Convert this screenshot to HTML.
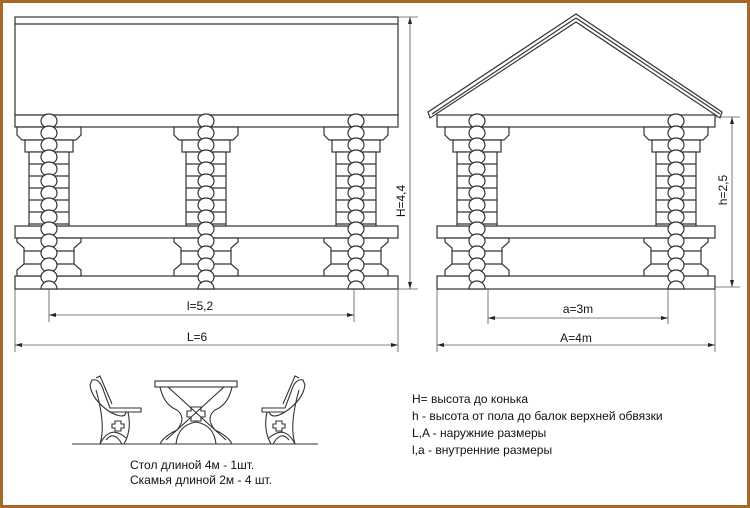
<!DOCTYPE html>
<html><head><meta charset="utf-8"><style>
html,body{margin:0;padding:0;background:#fff}
svg{display:block}
text{font-family:"Liberation Sans",sans-serif;fill:#111}
</style></head><body>
<svg id="s" width="750" height="508" viewBox="0 0 750 508" xmlns="http://www.w3.org/2000/svg">
<rect x="1.5" y="1.5" width="747" height="505" fill="#fff" stroke="#a5692b" stroke-width="3"/>
<g id="g" fill="#fff" stroke="#333" stroke-width="1.2">
<!-- left roof -->
<rect x="15" y="17" width="383" height="98"/>
<line x1="15" y1="24" x2="398" y2="24"/>
<rect x="15" y="115" width="383" height="12"/>
<rect x="15" y="226" width="383" height="12"/>
<rect x="15" y="276" width="383" height="13"/>
<!-- right roof -->
<polygon points="576,14 428,112 430,118 576,22 720,118 722,112"/>
<line x1="432" y1="114" x2="576" y2="18"/>
<line x1="576" y1="18" x2="720" y2="114"/>
<line x1="437" y1="117" x2="715" y2="117"/>
<rect x="437" y="115" width="278" height="12"/>
<rect x="437" y="226" width="278" height="12"/>
<rect x="437" y="276" width="278" height="13"/>
</g>
<g id="dims" stroke="#555" stroke-width="0.8" fill="none">
<line x1="15" y1="289" x2="15" y2="352"/><line x1="398" y1="289" x2="398" y2="352"/>
<line x1="49" y1="289" x2="49" y2="322"/><line x1="354" y1="289" x2="354" y2="322"/>
<line x1="15" y1="345" x2="398" y2="345"/><line x1="49" y1="315" x2="354" y2="315"/>
<line x1="437" y1="289" x2="437" y2="352"/><line x1="715" y1="289" x2="715" y2="352"/>
<line x1="488" y1="289" x2="488" y2="324"/><line x1="668" y1="289" x2="668" y2="324"/>
<line x1="437" y1="345" x2="715" y2="345"/><line x1="488" y1="318" x2="668" y2="318"/>
<line x1="398" y1="17" x2="418" y2="17"/><line x1="398" y1="289" x2="418" y2="289"/>
<line x1="410" y1="17" x2="410" y2="289"/>
<line x1="715" y1="117" x2="740" y2="117"/><line x1="715" y1="287" x2="740" y2="287"/>
<line x1="732" y1="117" x2="732" y2="287"/>
</g>
<g fill="#222">
<polygon points="15,345 22,343 22,347"/><polygon points="398,345 391,343 391,347"/>
<polygon points="49,315 56,313 56,317"/><polygon points="354,315 347,313 347,317"/>
<polygon points="437,345 444,343 444,347"/><polygon points="715,345 708,343 708,347"/>
<polygon points="488,318 495,316 495,320"/><polygon points="668,318 661,316 661,320"/>
<polygon points="410,17 408,24 412,24"/><polygon points="410,289 408,282 412,282"/>
<polygon points="732,117 730,124 734,124"/><polygon points="732,287 730,280 734,280"/>
</g>
<g font-size="12">
<text x="200" y="310" text-anchor="middle">l=5,2</text>
<text x="197" y="341" text-anchor="middle">L=6</text>
<text x="578" y="313" text-anchor="middle">a=3m</text>
<text x="576" y="342" text-anchor="middle">A=4m</text>
<text transform="translate(405,201) rotate(-90)" text-anchor="middle">H=4,4</text>
<text transform="translate(727,190) rotate(-90)" text-anchor="middle">h=2,5</text>
<text x="412" y="403">H= высота до конька</text>
<text x="412" y="420">h -  высота от пола до балок верхней обвязки</text>
<text x="412" y="437">L,A - наружние размеры</text>
<text x="412" y="454">l,a - внутренние размеры</text>
<text x="130" y="469">Стол длиной 4м  - 1шт.</text>
<text x="130" y="484">Скамья длиной 2м - 4 шт.</text>
</g>
<!-- furniture -->
<g fill="none" stroke="#333" stroke-width="1.1">
<line x1="72" y1="444" x2="318" y2="444"/>
<rect x="155" y="381" width="82" height="6" fill="#fff"/>
<path d="M160,387 L232,387 Q228,405 215,410 Q205,418 215,430 Q228,436 232,444 M160,387 Q164,405 177,410 Q187,418 177,430 Q164,436 160,444"/>
<path d="M176,444 Q178,425 196,422 Q214,425 216,444"/>
<path d="M168,387 L226,440 M224,387 L166,440"/>
<path d="M191,407 h10 v4 h4 v6 h-4 v4 h-10 v-4 h-4 v-6 h4z"/>
<path d="M92,380 Q100,378 104,392 L110,408 L141,408 L141,412 L110,412 Q92,400 90,385z"/>
<path d="M96,378 L100,376 L112,404"/>
<path d="M96,390 Q106,425 100,444 M110,412 Q125,420 126,412 M128,412 Q132,430 124,444 M100,444 Q110,424 126,438 M106,440 Q114,430 122,444"/>
<path d="M115,421 h6 v3 h3 v4 h-3 v3 h-6 v-3 h-3 v-4 h3z"/>
<path d="M303,380 Q295,378 291,392 L285,408 L262,408 L262,412 L285,412 Q303,400 305,385z"/>
<path d="M299,378 L295,376 L283,404"/>
<path d="M299,390 Q289,425 295,444 M285,412 Q272,420 269,412 M267,412 Q263,430 271,444 M295,444 Q285,424 269,438 M289,440 Q281,430 273,444"/>
<path d="M276,421 h6 v3 h3 v4 h-3 v3 h-6 v-3 h-3 v-4 h3z"/>
</g>
<script>
(function(){
var NS="http://www.w3.org/2000/svg",g=document.getElementById('g');
function el(t,a){var e=document.createElementNS(NS,t);for(var k in a)e.setAttribute(k,a[k]);g.appendChild(e);return e;}
function pillar(cx){
 // upper capital
 el('path',{d:'M'+(cx-32)+',127 h64 v8 l-5,5 h-54 l-5,-5z'});
 el('rect',{x:cx-24,y:140,width:48,height:12});
 el('rect',{x:cx-20,y:152,width:40,height:74});
 for(var y=164;y<226;y+=12){el('line',{x1:cx-20,y1:y,x2:cx+20,y2:y});}
 // lower
 el('path',{d:'M'+(cx-32)+',238 h64 v4 l-7,6 v16 l7,6 v6 h-64 v-6 l7,-6 v-16 l-7,-6z'});
 el('line',{x1:cx-25,y1:251,x2:cx+25,y2:251});
 el('line',{x1:cx-25,y1:264,x2:cx+25,y2:264});
 // logs
 for(var y=121;y<283;y+=12){el('ellipse',{cx:cx,cy:y,rx:8,ry:7});}
 el('path',{d:'M'+(cx-8)+',289 a8,8 0 0 1 16,0z'});
}
[49,206,356,477,676].forEach(pillar);
})();
</script>
</svg>
</body></html>
